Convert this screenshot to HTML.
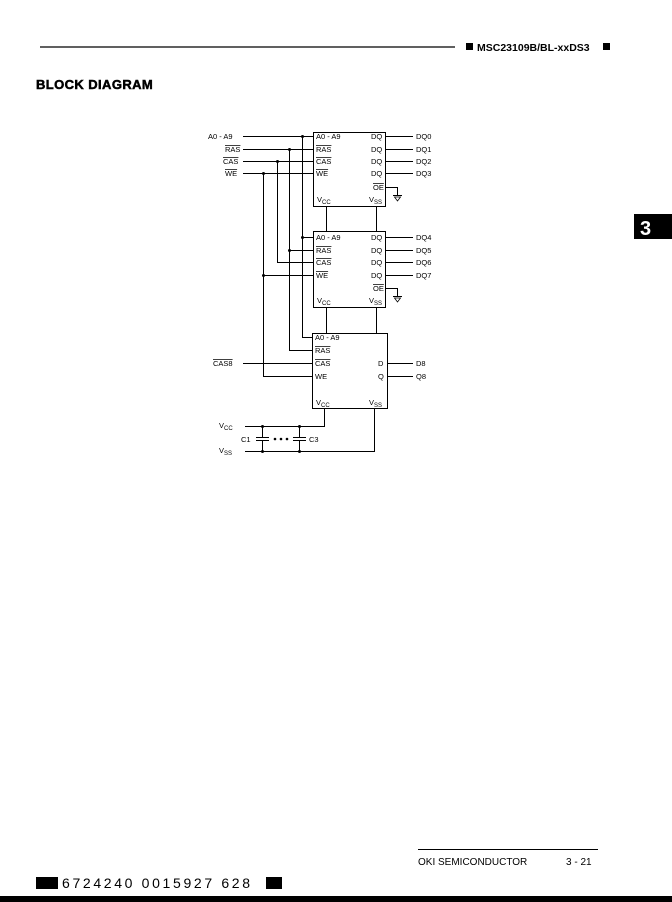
<!DOCTYPE html>
<html><head><meta charset="utf-8"><style>
html,body{margin:0;padding:0;background:#fff;}
svg{display:block;}
text{font-family:"Liberation Sans",sans-serif;fill:#000;}
</style></head><body>
<svg width="672" height="902" viewBox="0 0 672 902" xmlns="http://www.w3.org/2000/svg">
<!-- header -->
<line x1="40" y1="47" x2="455" y2="47" stroke="#000" stroke-width="1.3"/>
<rect x="466" y="43" width="7" height="7" fill="#000"/>
<text x="477" y="51" font-size="10.5" font-weight="bold">MSC23109B/BL-xxDS3</text>
<rect x="603" y="43" width="7" height="7" fill="#000"/>
<text x="36" y="89" font-size="13" font-weight="bold" letter-spacing="0.4" stroke="#000" stroke-width="0.5">BLOCK DIAGRAM</text>
<!-- tab -->
<rect x="634" y="214" width="38" height="25" fill="#000"/>
<text x="640" y="235" font-size="20" font-weight="bold" style="fill:#fff">3</text>

<g stroke="#000" stroke-width="1" fill="none">
<rect x="313.5" y="132.5" width="72" height="74"/>
<rect x="313.5" y="231.5" width="72" height="76"/>
<rect x="312.5" y="333.5" width="75" height="75"/>
<line x1="243" y1="136.5" x2="313" y2="136.5"/>
<line x1="243" y1="149.5" x2="313" y2="149.5"/>
<line x1="243" y1="161.5" x2="313" y2="161.5"/>
<line x1="243" y1="173.5" x2="313" y2="173.5"/>
<line x1="302.5" y1="136" x2="302.5" y2="337"/>
<line x1="289.5" y1="149" x2="289.5" y2="350"/>
<line x1="277.5" y1="161" x2="277.5" y2="262"/>
<line x1="263.5" y1="173" x2="263.5" y2="376"/>
<line x1="302" y1="237.5" x2="313" y2="237.5"/>
<line x1="289" y1="250.5" x2="313" y2="250.5"/>
<line x1="277" y1="262.5" x2="313" y2="262.5"/>
<line x1="263" y1="275.5" x2="313" y2="275.5"/>
<line x1="302" y1="337.5" x2="312" y2="337.5"/>
<line x1="289" y1="350.5" x2="312" y2="350.5"/>
<line x1="243" y1="363.5" x2="312" y2="363.5"/>
<line x1="263" y1="376.5" x2="312" y2="376.5"/>
<line x1="326.5" y1="206" x2="326.5" y2="231"/>
<line x1="376.5" y1="206" x2="376.5" y2="231"/>
<line x1="326.5" y1="307" x2="326.5" y2="333"/>
<line x1="376.5" y1="307" x2="376.5" y2="333"/>
<line x1="385" y1="136.5" x2="413" y2="136.5"/>
<line x1="385" y1="149.5" x2="413" y2="149.5"/>
<line x1="385" y1="161.5" x2="413" y2="161.5"/>
<line x1="385" y1="173.5" x2="413" y2="173.5"/>
<line x1="385" y1="237.5" x2="413" y2="237.5"/>
<line x1="385" y1="250.5" x2="413" y2="250.5"/>
<line x1="385" y1="262.5" x2="413" y2="262.5"/>
<line x1="385" y1="275.5" x2="413" y2="275.5"/>
<line x1="387" y1="363.5" x2="413" y2="363.5"/>
<line x1="387" y1="376.5" x2="413" y2="376.5"/>
<polyline points="385,187.5 397.5,187.5 397.5,195"/>
<line x1="393" y1="195.5" x2="402" y2="195.5"/>
<polyline points="385,288.5 397.5,288.5 397.5,296"/>
<line x1="393" y1="296.5" x2="402" y2="296.5"/>
<polyline points="324.5,408 324.5,426.5 245,426.5"/>
<polyline points="374.5,408 374.5,451.5 245,451.5"/>
<line x1="262.5" y1="426" x2="262.5" y2="437"/>
<line x1="262.5" y1="441" x2="262.5" y2="452"/>
<line x1="256" y1="437.5" x2="269" y2="437.5"/>
<line x1="256" y1="440.5" x2="269" y2="440.5"/>
<line x1="299.5" y1="426" x2="299.5" y2="437"/>
<line x1="299.5" y1="441" x2="299.5" y2="452"/>
<line x1="293" y1="437.5" x2="306" y2="437.5"/>
<line x1="293" y1="440.5" x2="306" y2="440.5"/>
</g>
<polygon points="394.5,197 400.5,197 397.5,201" fill="none" stroke="#000" stroke-width="0.8"/>
<polygon points="394.5,298 400.5,298 397.5,302" fill="none" stroke="#000" stroke-width="0.8"/>
<g fill="#000">
<circle cx="302.5" cy="136.5" r="1.5"/><circle cx="289.5" cy="149.5" r="1.5"/>
<circle cx="277.5" cy="161.5" r="1.5"/><circle cx="263.5" cy="173.5" r="1.5"/>
<circle cx="302.5" cy="237.5" r="1.5"/><circle cx="289.5" cy="250.5" r="1.5"/>
<circle cx="263.5" cy="275.5" r="1.5"/>
<circle cx="262.5" cy="426.5" r="1.5"/><circle cx="299.5" cy="426.5" r="1.5"/>
<circle cx="262.5" cy="451.5" r="1.5"/><circle cx="299.5" cy="451.5" r="1.5"/>
<circle cx="275" cy="439" r="1.3"/><circle cx="281" cy="439" r="1.3"/><circle cx="287" cy="439" r="1.3"/>
</g>
<g font-size="7.5">
<text x="208" y="139">A0 - A9</text>
<text x="225" y="152" text-decoration="overline">RAS</text>
<text x="223" y="164" text-decoration="overline">CAS</text>
<text x="225" y="176" text-decoration="overline">WE</text>
<text x="213" y="366" text-decoration="overline">CAS8</text>
<text x="219" y="428">V<tspan font-size="6" dy="2">CC</tspan></text>
<text x="219" y="453">V<tspan font-size="6" dy="2">SS</tspan></text>
<text x="241" y="442">C1</text>
<text x="309" y="442">C3</text>
<text x="316" y="139">A0 - A9</text>
<text x="316" y="152" text-decoration="overline">RAS</text>
<text x="316" y="164" text-decoration="overline">CAS</text>
<text x="316" y="176" text-decoration="overline">WE</text>
<text x="371" y="139">DQ</text><text x="371" y="152">DQ</text>
<text x="371" y="164">DQ</text><text x="371" y="176">DQ</text>
<text x="373" y="190" text-decoration="overline">OE</text>
<text x="317" y="202">V<tspan font-size="6" dy="2">CC</tspan></text>
<text x="369" y="202">V<tspan font-size="6" dy="2">SS</tspan></text>
<text x="416" y="139">DQ0</text><text x="416" y="152">DQ1</text>
<text x="416" y="164">DQ2</text><text x="416" y="176">DQ3</text>
<text x="316" y="240">A0 - A9</text>
<text x="316" y="253" text-decoration="overline">RAS</text>
<text x="316" y="265" text-decoration="overline">CAS</text>
<text x="316" y="278" text-decoration="overline">WE</text>
<text x="371" y="240">DQ</text><text x="371" y="253">DQ</text>
<text x="371" y="265">DQ</text><text x="371" y="278">DQ</text>
<text x="373" y="291" text-decoration="overline">OE</text>
<text x="317" y="303">V<tspan font-size="6" dy="2">CC</tspan></text>
<text x="369" y="303">V<tspan font-size="6" dy="2">SS</tspan></text>
<text x="416" y="240">DQ4</text><text x="416" y="253">DQ5</text>
<text x="416" y="265">DQ6</text><text x="416" y="278">DQ7</text>
<text x="315" y="340">A0 - A9</text>
<text x="315" y="353" text-decoration="overline">RAS</text>
<text x="315" y="366" text-decoration="overline">CAS</text>
<text x="315" y="379">WE</text>
<text x="378" y="366">D</text><text x="378" y="379">Q</text>
<text x="316" y="405">V<tspan font-size="6" dy="2">CC</tspan></text>
<text x="369" y="405">V<tspan font-size="6" dy="2">SS</tspan></text>
<text x="416" y="366">D8</text><text x="416" y="379">Q8</text>
</g>
<!-- footer -->
<line x1="418" y1="849.5" x2="598" y2="849.5" stroke="#000" stroke-width="1"/>
<text x="418" y="865" font-size="10">OKI SEMICONDUCTOR</text>
<text x="566" y="865" font-size="10">3 - 21</text>
<rect x="36" y="877" width="22" height="12" fill="#000"/>
<text x="62" y="888" font-size="14" font-family="Liberation Mono" textLength="188" lengthAdjust="spacing">6724240 0015927 628</text>
<rect x="266" y="877" width="16" height="12" fill="#000"/>
<rect x="0" y="896" width="672" height="6" fill="#000"/>
</svg>
</body></html>
